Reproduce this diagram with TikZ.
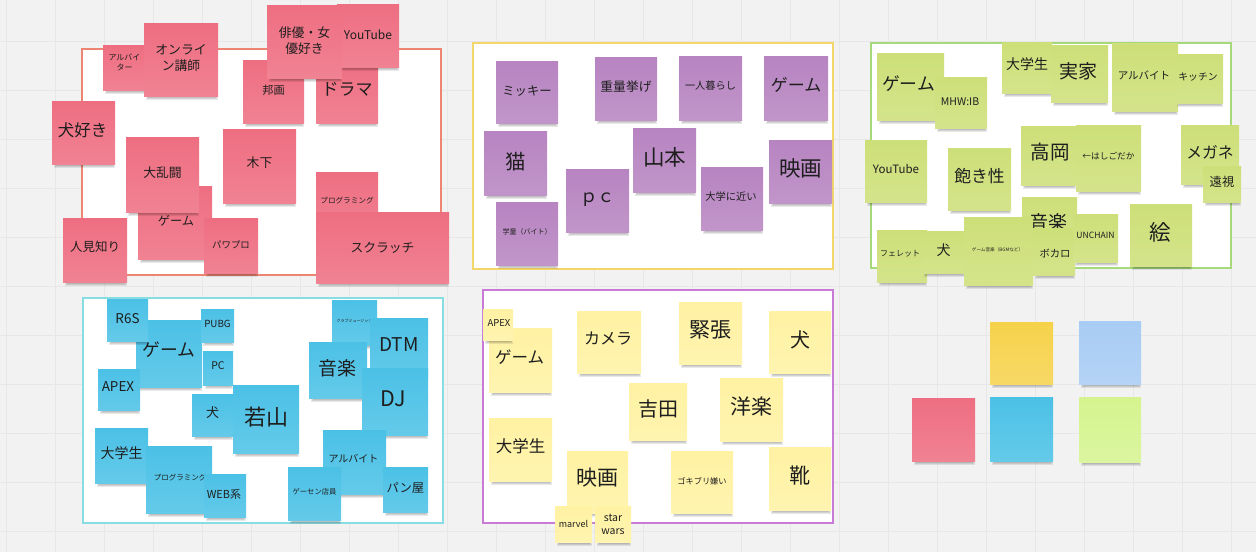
\documentclass[tikz,border=0pt]{standalone}
\usepackage{fontspec}
\setmainfont{Noto Sans CJK JP}
\usetikzlibrary{fit,calc}

\definecolor{bgc}{HTML}{F2F2F2}
\definecolor{gridc}{HTML}{E7E7E7}
\definecolor{textc}{HTML}{1E1E1E}
\definecolor{nred}{HTML}{EE6E81}
\definecolor{npur}{HTML}{B784C1}
\definecolor{ngrn}{HTML}{CDDF78}
\definecolor{ncya}{HTML}{4BC1E6}
\definecolor{nyel}{HTML}{FFF2A3}
\definecolor{lyel}{HTML}{F6D24B}
\definecolor{lblu}{HTML}{A8CCF4}
\definecolor{lgrn}{HTML}{D5F48F}
\definecolor{fred}{HTML}{EE8472}
\definecolor{fyel}{HTML}{F5D66B}
\definecolor{fgrn}{HTML}{A5D979}
\definecolor{fcya}{HTML}{88DDE2}
\definecolor{fpur}{HTML}{C77BD6}

\newcommand\fs[1]{\pgfmathsetmacro\blsk{#1*1.25}\fontsize{#1}{\blsk}\selectfont}

% sticky note: [text offset]{name}{colour}{x1}{y1}{x2}{y2}{font size}{text}
\newcommand\nt[9][0,0]{%
  \foreach \k in {0,1,2,3}{\fill[black,opacity=0.09] ({#4+5-\k},{#7-3}) rectangle ({#6-3+\k},{#7+1+\k});}%
  \node[fit={(#4,#5)(#6,#7)}, inner sep=0pt, outer sep=0pt, top color=#3, bottom color=#3!86!white] (#2) {};%
  \node[txt, font=\fs{#8}] (#2-t) at ($(#2.center)+(#1)$) {#9};%
}

\tikzset{
  txt/.style={inner sep=0pt, align=center, text=textc},
  frame/.style={fill=white, inner sep=0pt, outer sep=0pt, line width=1.1pt}
}

\begin{document}
\begin{tikzpicture}[x=1pt,y=-1pt]
\useasboundingbox (0,0) rectangle (1256,552);
\fill[bgc] (0,0) rectangle (1256,552);
\foreach \gx in {6,55,...,1256} \draw[gridc, line width=0.6pt] (\gx,0) -- (\gx,552);
\foreach \gy in {41,90,...,552} \draw[gridc, line width=0.6pt] (0,\gy) -- (1256,\gy);

% group frames
\node[frame, draw=fred, fit={(82,49)(441,275)}] (fR) {};
\node[frame, draw=fyel, fit={(473,43)(833,269)}] (fP) {};
\node[frame, draw=fgrn, fit={(871,43)(1231,268)}] (fG) {};
\node[frame, draw=fcya, fit={(83,298)(443,523)}] (fC) {};
\node[frame, draw=fpur, fit={(483,290)(833,523)}] (fY) {};

% red group
\nt[-2,-5]{r-arb}{nred}{103}{45}{150}{90}{8}{アルバイ\\ター}
\nt[0,-2]{r-onl}{nred}{144}{23}{218}{96}{12.8}{オンライ\\ン講師}
\nt[-1,-2]{r-dog}{nred}{52}{101}{115}{164}{16.5}{犬好き}
\nt[1,-2]{r-game}{nred}{138}{186}{212}{259}{12.2}{ゲーム}
\nt[0,-2]{r-ran}{nred}{126}{137}{199}{212}{12.8}{大乱闘}
\nt[0,-1]{r-pawa}{nred}{204}{218}{258}{273}{9.4}{パワプロ}
\nt[0,-3]{r-hito}{nred}{63}{218}{127}{282}{12.5}{人見知り}
\nt[0,-3]{r-kino}{nred}{223}{129}{296}{203}{12.8}{木下}
\nt[0,-1]{r-hoga}{nred}{243}{60}{304}{123}{11.2}{邦画}
\nt[0,-2]{r-drama}{nred}{316}{60}{378}{123}{17}{ドラマ}
\nt[0,-1]{r-yt}{nred}{337}{4}{399}{67}{12}{YouTube}
\nt[0,-1]{r-haiyu}{nred}{267}{5}{342}{78}{12.8}{俳優・女\\優好き}
\nt[0,-2.5]{r-prog}{nred}{316}{172}{378}{235}{7.6}{プログラミング}
\nt{r-scr}{nred}{316}{212}{449}{283}{12.8}{スクラッチ}

% purple group
\nt[0,-1]{p-mic}{npur}{496}{61}{558}{123}{12.3}{ミッキー}
\nt[0,-1.5]{p-jyu}{npur}{595}{57}{657}{120}{12.8}{重量挙げ}
\nt[0,-2]{p-hit}{npur}{679}{56}{742}{120}{10.2}{一人暮らし}
\nt[0,-3]{p-game}{npur}{764}{56}{828}{120}{17}{ゲーム}
\nt[0,-1]{p-neko}{npur}{484}{131}{547}{195}{20.5}{猫}
\nt[0,-1.5]{p-gaku}{npur}{496}{202}{558}{265}{7}{学童（バイト）}
\nt[0,-0.5]{p-pc}{npur}{566}{169}{629}{232}{17.5}{ｐｃ}
\nt[0,-3]{p-yama}{npur}{633}{128}{696}{192}{21.5}{山本}
\nt[-1,-2]{p-dai}{npur}{701}{167}{763}{230}{10.3}{大学に近い}
\nt[0,-3]{p-eiga}{npur}{769}{140}{832}{203}{21.5}{映画}

% green group
\nt[-2,-3]{g-game}{ngrn}{877}{53}{944}{120}{17.8}{ゲーム}
\nt[-1,-1]{g-mhw}{ngrn}{935}{77}{987}{128}{10.5}{MHW:IB}
\nt[0,-3]{g-dai}{ngrn}{1002}{42}{1052}{93}{14}{大学生}
\nt[-1,-2]{g-jik}{ngrn}{1051}{45}{1108}{102}{19}{実家}
\nt[-1,-2]{g-arb}{ngrn}{1112}{43}{1178}{111}{10.5}{アルバイト}
\nt[-1,-2]{g-kit}{ngrn}{1175}{54}{1223}{103}{9.8}{キッチン}
\nt[0,-2]{g-yt}{ngrn}{865}{140}{927}{202}{11.5}{YouTube}
\nt[0,-3]{g-aki}{ngrn}{948}{148}{1011}{210}{16.8}{飽き性}
\nt[1.5,-3]{g-taka}{ngrn}{1021}{126}{1076}{185}{19.5}{高岡}
\nt[0,-2]{g-hashi}{ngrn}{1076}{125}{1141}{191}{8.7}{←はしごだか}
\nt[0,-2.5]{g-mega}{ngrn}{1181}{125}{1239}{184}{15.8}{メガネ}
\nt[0,-2]{g-enshi}{ngrn}{1203}{166}{1241}{202}{12.3}{遠視}
\nt[-1,-1.5]{g-ongaku}{ngrn}{1022}{197}{1077}{250}{19}{音楽}
\nt[1,1.5]{g-boka}{ngrn}{1033}{228}{1075}{275}{10.3}{ボカロ}
\nt[0,-3]{g-uncha}{ngrn}{1073}{214}{1118}{262}{8.6}{UNCHAIN}
\nt[-1,-3]{g-e}{ngrn}{1130}{204}{1192}{266}{21.5}{絵}
\nt[-2,-2]{g-fer}{ngrn}{877}{230}{927}{282}{8}{フェレット}
\nt[0,-2]{g-inu}{ngrn}{922}{231}{965}{273}{14}{犬}
\nt[-1,-1]{g-gmus}{ngrn}{964}{217}{1033}{285}{4.6}{ゲーム音楽（BGMなど）}

% cyan group
\nt[0,-3.5]{c-game}{ncya}{136}{320}{202}{387}{17.8}{ゲーム}
\nt[0,-1]{c-r6s}{ncya}{107}{299}{148}{341}{13.5}{R6S}
\nt[0,-1.5]{c-pubg}{ncya}{201}{309}{234}{342}{9.8}{PUBG}
\nt[0,-2]{c-pc}{ncya}{203}{351}{233}{385}{10.5}{PC}
\nt[-1,-3]{c-apex}{ncya}{98}{369}{140}{410}{13.5}{APEX}
\nt[0,-2]{c-inu}{ncya}{192}{394}{233}{436}{13}{犬}
\nt[0,-2]{c-waka}{ncya}{233}{385}{299}{453}{22}{若山}
\nt[0,-2.5]{c-dai}{ncya}{95}{428}{148}{483}{14}{大学生}
\nt[1,-1.5]{c-prog}{ncya}{146}{446}{212}{513}{7.5}{プログラミング}
\nt[-1,-1.5]{c-web}{ncya}{204}{474}{246}{517}{11}{WEB系}
\nt[0,-1.5]{c-club}{ncya}{332}{300}{377}{345}{4}{クラブミュージック}
\nt[0,-3]{c-dtm}{ncya}{370}{318}{428}{378}{19}{DTM}
\nt[-1,-2]{c-ong}{ncya}{309}{342}{367}{398}{19}{音楽}
\nt[-2,-3]{c-dj}{ncya}{362}{368}{428}{435}{21.5}{DJ}
\nt[-1,-3]{c-arb}{ncya}{323}{430}{386}{494}{10}{アルバイト}
\nt[0,-2]{c-gs}{ncya}{288}{467}{341}{520}{7.3}{ゲーセン店員}
\nt[0,-1.5]{c-pan}{ncya}{383}{467}{428}{512}{12.3}{パン屋}

% yellow group
\nt[-1,-3]{y-game}{nyel}{489}{328}{552}{392}{16.5}{ゲーム}
\nt[1,-1.5]{y-apex}{nyel}{483}{309}{513}{340}{9.5}{APEX}
\nt[-1,-3]{y-cam}{nyel}{577}{311}{641}{373}{16}{カメラ}
\nt[0,-3]{y-dai}{nyel}{489}{418}{552}{481}{16.5}{大学生}
\nt[0,-4]{y-eiga}{nyel}{567}{451}{628}{513}{21}{映画}
\nt{y-marvel}{nyel}{555}{506}{592}{542}{9}{marvel}
\nt{y-sw}{nyel}{595}{506}{631}{542}{10.5}{star\\wars}
\nt[0,-2.5]{y-yoshi}{nyel}{629}{383}{687}{440}{20}{吉田}
\nt[0,-3]{y-kin}{nyel}{679}{302}{742}{364}{21}{緊張}
\nt[0,-2]{y-inu}{nyel}{769}{311}{831}{373}{20}{犬}
\nt[0,-2.5]{y-yo}{nyel}{720}{378}{783}{441}{21}{洋楽}
\nt[0,-1]{y-goki}{nyel}{671}{451}{733}{513}{8.2}{ゴキブリ嫌い}
\nt[0,-2.5]{y-kutsu}{nyel}{769}{447}{831}{510}{21}{靴}

% colour swatches
\nt{l-yel}{lyel}{990}{322}{1053}{384}{8}{}
\nt{l-blu}{lblu}{1079}{321}{1141}{384}{8}{}
\nt{l-red}{nred}{912}{398}{975}{461}{8}{}
\nt{l-cya}{ncya}{990}{397}{1053}{461}{8}{}
\nt{l-grn}{lgrn}{1079}{397}{1141}{462}{8}{}
\end{tikzpicture}
\end{document}
